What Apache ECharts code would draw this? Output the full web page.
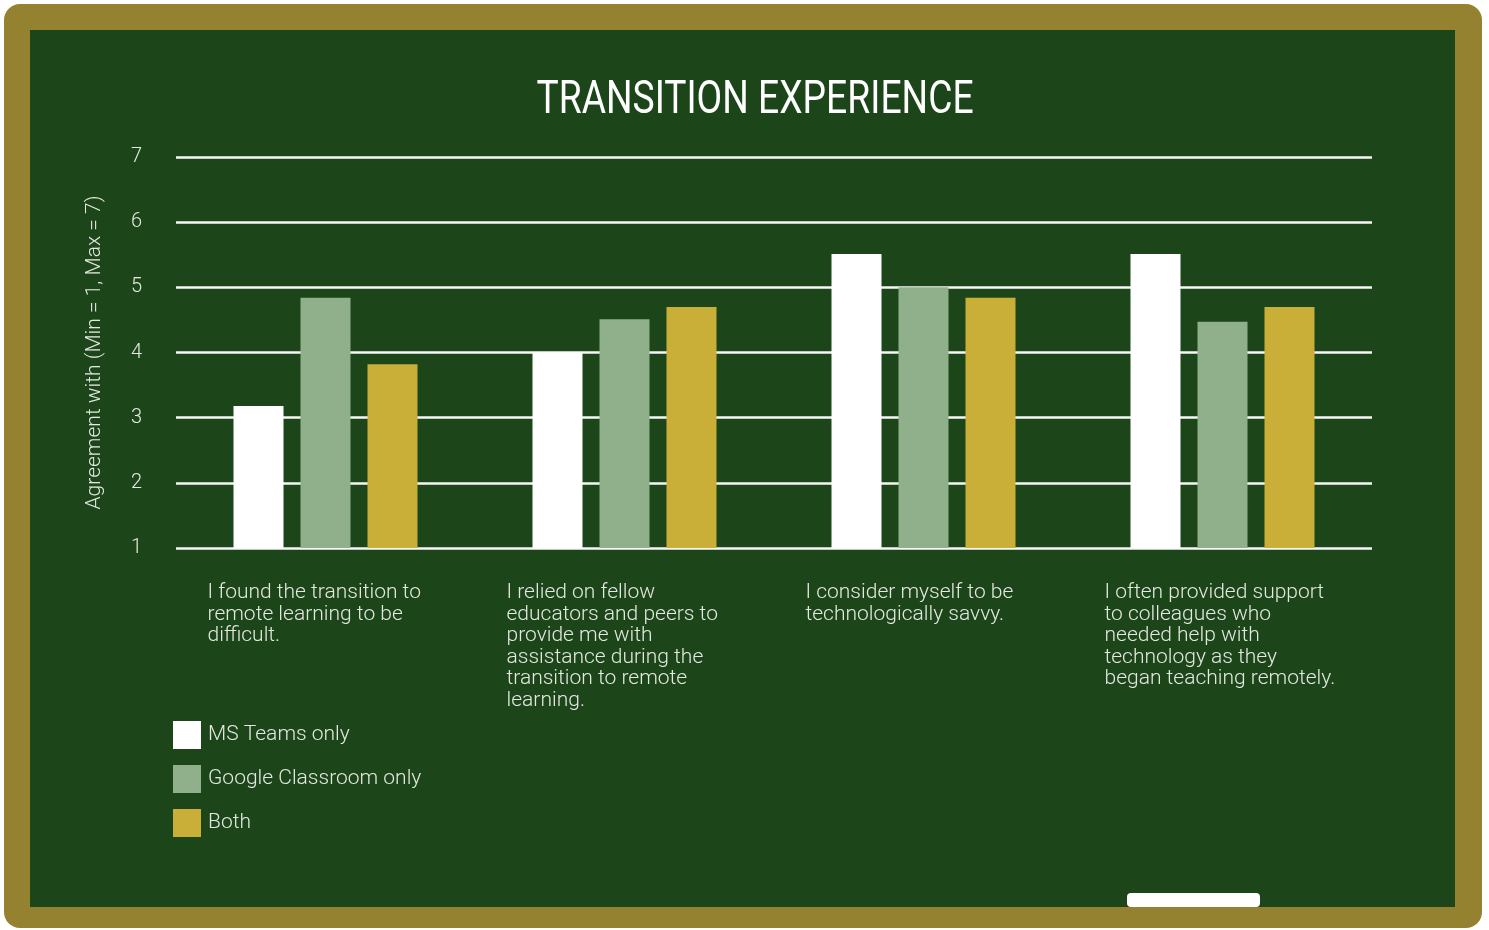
<!DOCTYPE html>
<html>
<head>
<meta charset="utf-8">
<title>Transition Experience</title>
<script src="https://cdn.jsdelivr.net/npm/echarts@6/dist/echarts.min.js"></script>
<style>
  html, body { margin: 0; padding: 0; background: #ffffff; }
  #chart { width: 1489px; height: 930px; }
</style>
</head>
<body>
<div id="chart"></div>
<script>
// 数据
const categories = [
    'I found the transition to\nremote learning to be\ndifficult.',
    'I relied on fellow\neducators and peers to\nprovide me with\nassistance during the\ntransition to remote\nlearning.',
    'I consider myself to be\ntechnologically savvy.',
    'I often provided support\nto colleagues who\nneeded help with\ntechnology as they\nbegan teaching remotely.'
];
const seriesNames = ['MS Teams only', 'Google Classroom only', 'Both'];
const msTeams = [3.18, 4.0, 5.51, 5.51];
const googleClassroom = [4.84, 4.51, 5.0, 4.47];
const both = [3.82, 4.70, 4.84, 4.70];
const yTicks = [1, 2, 3, 4, 5, 6, 7];

const colors = ['#ffffff', '#8fb08a', '#c9af38'];
const labelColor = '#e4e8e1';

let myChart = echarts.init(document.getElementById('chart'));

let option = {
    backgroundColor: '#ffffff',
    textStyle: { fontFamily: 'Roboto' },
    graphic: [
        // 外框
        { type: 'rect', z: -10, shape: { x: 4, y: 4, width: 1478, height: 924, r: 16 }, style: { fill: '#958230' } },
        { type: 'rect', z: -9, shape: { x: 30, y: 30, width: 1425, height: 877 }, style: { fill: '#1c4619' } },
        // 粉笔擦
        { type: 'rect', z: -8, shape: { x: 1127, y: 893, width: 133, height: 14, r: 4 }, style: { fill: '#ffffff' } },
        // 标题
        {
            type: 'text', x: 755, y: 101, scaleX: 0.81, z: 5,
            style: {
                text: 'TRANSITION EXPERIENCE',
                fill: '#ffffff',
                font: '400 46px Roboto',
                textAlign: 'center',
                textVerticalAlign: 'middle'
            }
        }
    ],
    legend: {
        orient: 'vertical',
        left: 173,
        top: 721,
        padding: 0,
        itemWidth: 28,
        itemHeight: 28,
        itemGap: 16,
        icon: 'rect',
        data: seriesNames,
        textStyle: { color: labelColor, fontSize: 21, fontWeight: 300, fontFamily: 'Roboto', padding: [0, 0, 0, 2] }
    },
    grid: {
        left: 176,
        right: 117,
        top: 157,
        bottom: 382
    },
    xAxis: {
        type: 'category',
        data: categories,
        axisLine: { show: false },
        axisTick: { show: false },
        axisLabel: {
            interval: 0,
            margin: 34,
            color: labelColor,
            formatter: function (v) { return '{a|' + v + '}'; },
            rich: {
                a: {
                    width: 236,
                    align: 'left',
                    fontSize: 21,
                    fontWeight: 300,
                    lineHeight: 21.6,
                    fontFamily: 'Roboto',
                    color: labelColor
                }
            }
        }
    },
    yAxis: {
        type: 'value',
        min: yTicks[0],
        max: yTicks[yTicks.length - 1],
        interval: 1,
        name: 'Agreement with (Min = 1, Max = 7)',
        nameLocation: 'middle',
        nameGap: 71,
        nameTextStyle: { color: labelColor, fontSize: 21, fontWeight: 300, fontFamily: 'Roboto' },
        axisLine: { show: false },
        axisTick: { show: false },
        axisLabel: { color: labelColor, fontSize: 20, fontWeight: 300, margin: 34 },
        splitLine: { lineStyle: { color: '#f7f7f7', width: 2.5 } }
    },
    series: [
        { name: seriesNames[0], type: 'bar', data: msTeams, barWidth: 50, barGap: '34%', itemStyle: { color: colors[0] } },
        { name: seriesNames[1], type: 'bar', data: googleClassroom, barWidth: 50, barGap: '34%', itemStyle: { color: colors[1] } },
        { name: seriesNames[2], type: 'bar', data: both, barWidth: 50, barGap: '34%', itemStyle: { color: colors[2] } }
    ]
};

myChart.setOption(option);
</script>
</body>
</html>
